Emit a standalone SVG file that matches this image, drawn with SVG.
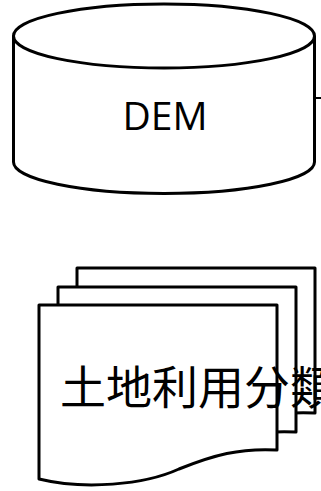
<svg xmlns="http://www.w3.org/2000/svg" width="321" height="491" viewBox="0 0 321 491">
<style>
.s{fill:#fff;stroke:#000;stroke-width:3;stroke-linejoin:round}
.t{font-family:"Open Sans","Noto Sans CJK SC",sans-serif;fill:#000}
</style>
<defs>
<path id="doc" d="M0,0 H238 V145 C200,143 175,150 140,164 C105,180 45,185 0,174 Z"/>
</defs>
<g id="connectors">
<line x1="315" y1="98" x2="321" y2="98" stroke="#000" stroke-width="2"/>
</g>
<g id="dem">
<path class="s" d="M13.5,36 V162 A150.5,31.5 0 0 0 314.5,162 V36 A150.5,32 0 0 0 13.5,36 Z"/>
<path class="s" fill="none" d="M13.5,36 A150.5,32 0 0 0 314.5,36"/>
<text class="t" x="165" y="129.5" font-size="39" text-anchor="middle">DEM</text>
</g>
<g id="landuse">
<use href="#doc" class="s" x="77" y="268"/>
<use href="#doc" class="s" x="58" y="287"/>
<use href="#doc" class="s" x="39" y="305"/>
<text class="t" x="60" y="404" font-size="46">土地利用分類</text>
</g>
</svg>
